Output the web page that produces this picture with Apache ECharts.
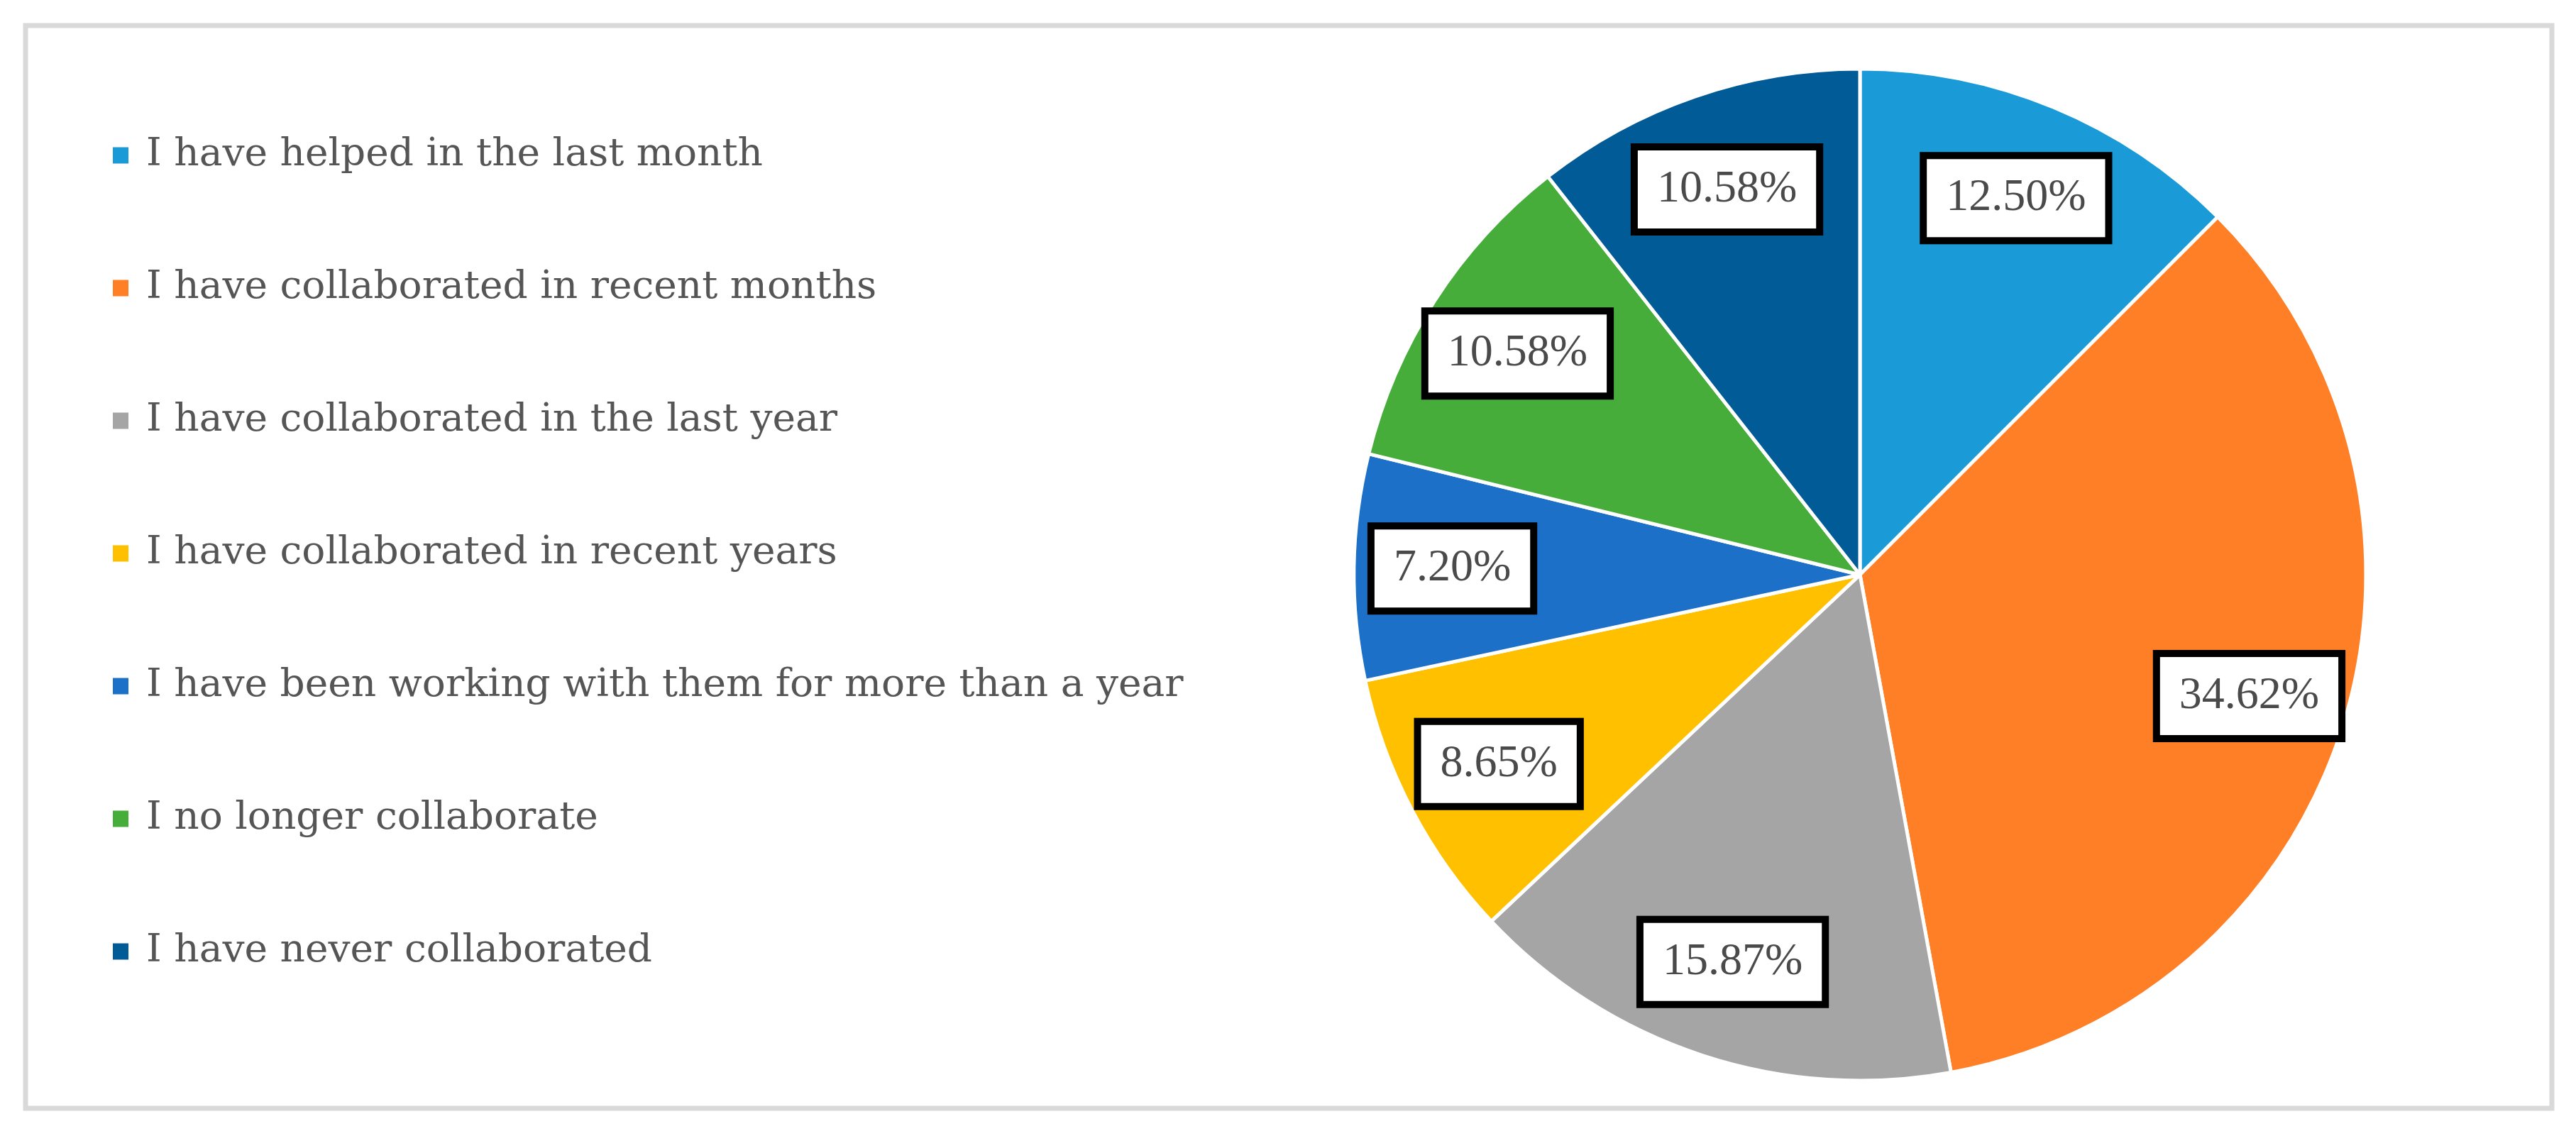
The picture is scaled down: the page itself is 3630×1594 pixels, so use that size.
<!DOCTYPE html>
<html>
<head>
<meta charset="utf-8">
<script src="https://cdn.jsdelivr.net/npm/echarts@6/dist/echarts.min.js"></script>
<style>
  html, body { margin: 0; padding: 0; background: #fff; }
  #mydiv { width: 3630px; height: 1594px; }
</style>
</head>
<body>
<div id="mydiv"></div>
<script>
// categories (legend order = slice order, clockwise from the top)
var categories = [
  "I have helped in the last month",
  "I have collaborated in recent months",
  "I have collaborated in the last year",
  "I have collaborated in recent years",
  "I have been working with them for more than a year",
  "I no longer collaborate",
  "I have never collaborated"
];
// shares in percent
var shares = [12.50, 34.62, 15.87, 8.65, 7.20, 10.58, 10.58];
var colors = ["#1a9bd7", "#fe7f26", "#a5a5a5", "#ffc000", "#1c70c8", "#47ad3a", "#005b96"];

var pieData = [];
for (var i = 0; i < categories.length; i++) {
  pieData.push({ name: categories[i], value: shares[i], itemStyle: { color: colors[i] } });
}

var chart = echarts.init(document.getElementById("mydiv"));

var option = {
  backgroundColor: "#fff",
  animation: false,
  graphic: [{
    type: "rect",
    shape: { x: 36, y: 36, width: 3560, height: 1526 },
    style: { fill: "none", stroke: "#d9d9d9", lineWidth: 7 },
    silent: true
  }],
  legend: {
    orient: "vertical",
    left: 152,
    top: 184,
    itemWidth: 24,
    itemHeight: 25,
    itemGap: 127,
    icon: "rect",
    selectedMode: false,
    data: categories,
    textStyle: {
      fontFamily: "DejaVu Serif",
      fontSize: 55,
      lineHeight: 60,
      color: "#555555",
      padding: [0, 0, 0, 19]
    }
  },
  series: [{
    // the slices
    type: "pie",
    center: [2621, 810],
    radius: 713,
    startAngle: 90,
    clockwise: true,
    silent: true,
    label: { show: false },
    labelLine: { show: false },
    itemStyle: { borderColor: "#fff", borderWidth: 5 },
    data: pieData
  }, {
    // invisible ring, only used to place the boxed labels at ~80% of the radius
    type: "pie",
    center: [2621, 810],
    radius: [430, 713],
    startAngle: 90,
    clockwise: true,
    silent: true,
    itemStyle: { color: "rgba(0,0,0,0)" },
    labelLine: { show: false },
    label: {
      show: true,
      position: "inside",
      rotate: 0,
      formatter: function (p) { return p.value.toFixed(2) + "%"; },
      fontFamily: "Liberation Serif",
      fontSize: 64,
      lineHeight: 62,
      color: "#4a4a4a",
      backgroundColor: "#fff",
      borderColor: "#000",
      borderWidth: 10,
      padding: [24, 27, 24, 27]
    },
    data: pieData.map(function (d) { return { name: d.name, value: d.value }; })
  }]
};

chart.setOption(option);
</script>
</body>
</html>
